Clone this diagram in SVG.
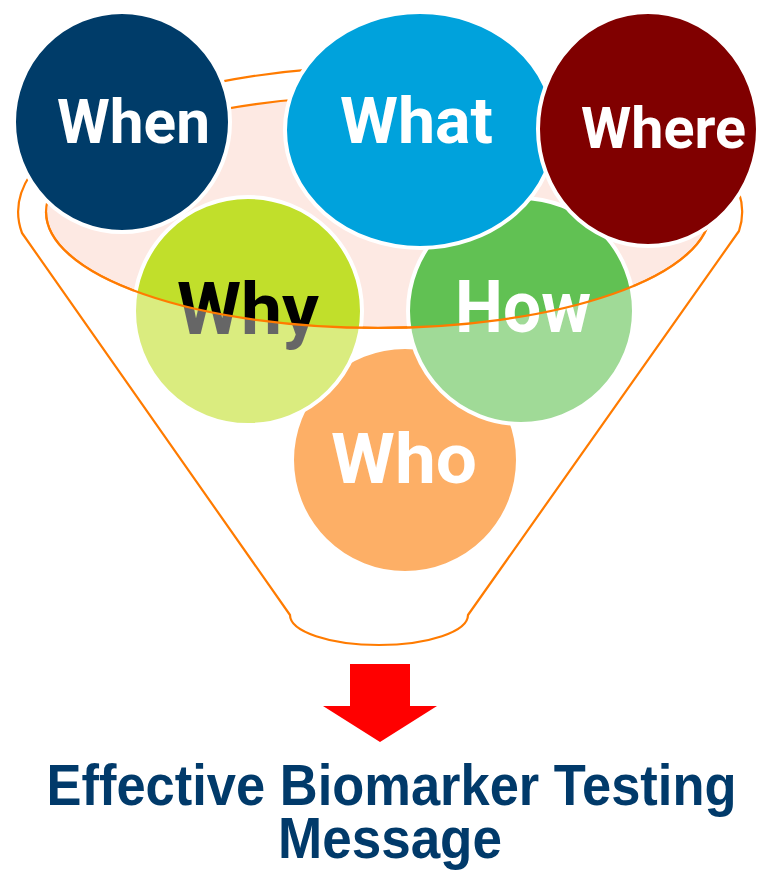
<svg xmlns="http://www.w3.org/2000/svg" width="762" height="871" viewBox="0 0 762 871">
  <style>
    .bubble { stroke: #ffffff; stroke-width: 4; }
    .label { font-family: Roboto, "Liberation Sans", Arial, sans-serif; font-weight: 700; text-anchor: middle; }
    .rim { fill: none; stroke: #ff7b00; stroke-width: 2.2; stroke-linejoin: round; }
    .title { font-family: "Liberation Sans Narrow", "Arial Narrow", "Liberation Sans", Arial, sans-serif; font-weight: 700; font-size: 58px; fill: #013a6a; text-anchor: middle; }
  </style>

  <!-- funnel opening (behind the bubbles) -->
  <g id="funnel-back">
    <ellipse cx="378" cy="212" rx="332" ry="116" fill="#fde9e3" stroke="#ff7b00" stroke-width="2.2"/>
  </g>

  <g id="node-who">
    <circle class="bubble" cx="405" cy="460" r="113" fill="#fc7a00"/>
    <text class="label" x="404" y="483" font-size="70" fill="#ffffff" textLength="146" lengthAdjust="spacingAndGlyphs">Who</text>
  </g>

  <g id="node-why">
    <circle class="bubble" cx="248" cy="311" r="114" fill="#c1df2b"/>
    <text class="label" x="248" y="334" font-size="72" fill="#000000" textLength="142" lengthAdjust="spacingAndGlyphs">Why</text>
  </g>

  <g id="node-how">
    <circle class="bubble" cx="521" cy="311" r="113" fill="#61c153"/>
    <text class="label" x="523" y="332" font-size="73" fill="#ffffff" textLength="136" lengthAdjust="spacingAndGlyphs">How</text>
  </g>

  <!-- funnel body: translucent white glaze over the lower bubbles -->
  <g id="funnel-front">
    <path d="M 46,212 A 332 116 0 0 0 710,212 L 739,231 L 468,615 A 89 30 0 0 1 290,615 L 22,233 Z" fill="#ffffff" fill-opacity="0.4"/>
    <path class="rim" d="M 46,212 A 332 116 0 0 0 710,212"/>
    <path class="rim" d="M 22,233 A 362 145 0 1 1 739,231 L 468,615 A 89 30 0 0 1 290,615 Z"/>
  </g>

  <g id="node-when">
    <ellipse class="bubble" cx="122" cy="122" rx="108" ry="110" fill="#003c69"/>
    <text class="label" x="133.5" y="142.5" font-size="61" fill="#ffffff" textLength="153" lengthAdjust="spacingAndGlyphs">When</text>
  </g>

  <g id="node-what">
    <ellipse class="bubble" cx="420" cy="130" rx="135" ry="118" fill="#00a2dc"/>
    <text class="label" x="416.5" y="143" font-size="65" fill="#ffffff" textLength="153" lengthAdjust="spacingAndGlyphs">What</text>
  </g>

  <g id="node-where">
    <ellipse class="bubble" cx="648" cy="129" rx="110" ry="117" fill="#800000"/>
    <text class="label" x="663.5" y="148" font-size="58" fill="#ffffff" textLength="165" lengthAdjust="spacingAndGlyphs">Where</text>
  </g>

  <g id="connectors">
    <path id="arrow-down" d="M 350,664 L 410,664 L 410,706 L 437,706 L 380,742 L 323,706 L 350,706 Z" fill="#ff0000"/>
  </g>

  <g id="node-result">
    <text class="title" x="391.5" y="805" textLength="690" lengthAdjust="spacingAndGlyphs">Effective Biomarker Testing</text>
    <text class="title" x="390" y="858" textLength="224" lengthAdjust="spacingAndGlyphs">Message</text>
  </g>
</svg>
